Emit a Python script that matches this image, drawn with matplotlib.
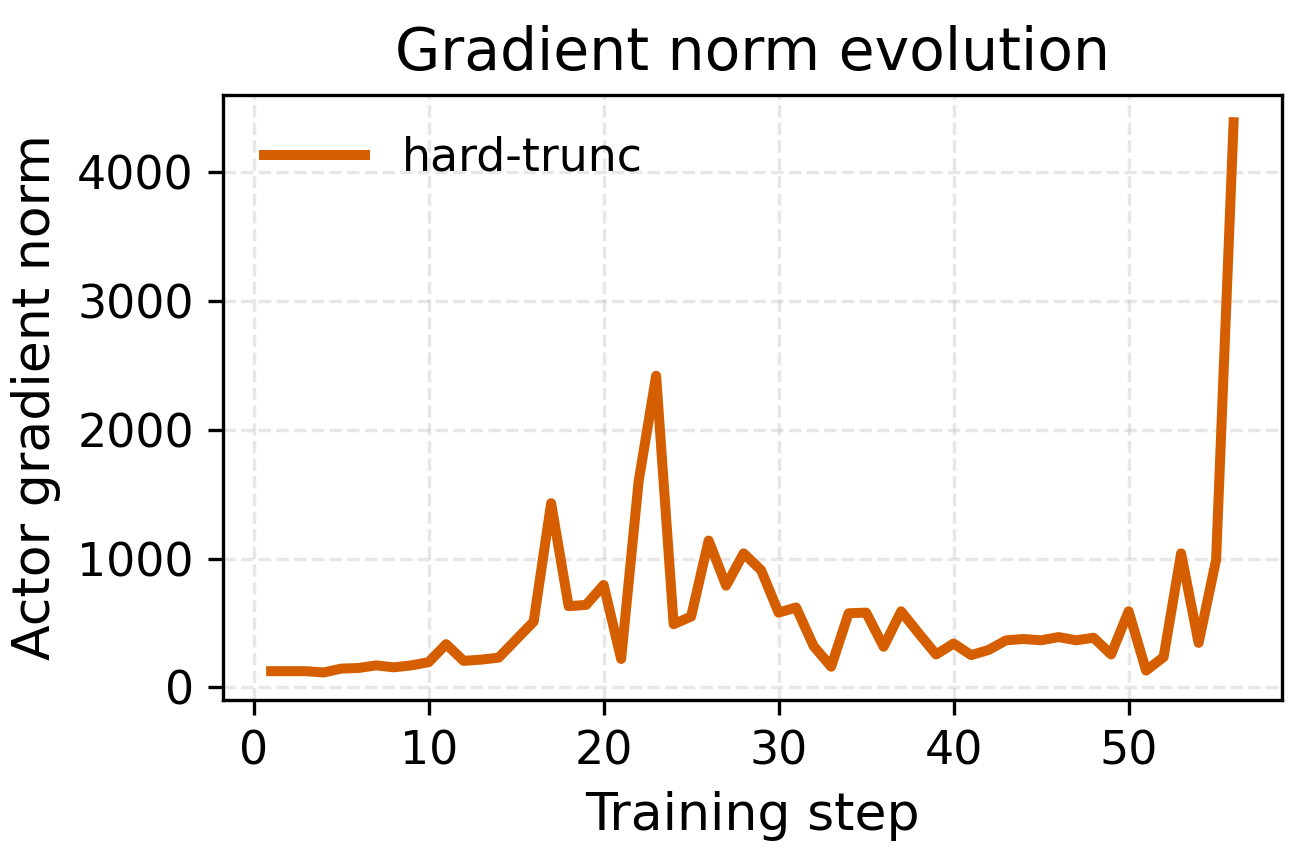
import matplotlib
matplotlib.use('Agg')
import matplotlib.pyplot as plt

steps = list(range(1, 57))
grad_norm = [125, 125, 125, 115, 145, 150, 170, 155, 170, 195,
             335, 205, 215, 230, 370, 510, 1430, 630, 640, 795,
             220, 1600, 2420, 490, 550, 1140, 790, 1040, 910, 580,
             620, 320, 160, 575, 580, 315, 590, 420, 255, 340,
             250, 290, 365, 375, 365, 390, 365, 385, 255, 590,
             130, 235, 1040, 345, 990, 4390]

fig, ax = plt.subplots(figsize=(4.373, 2.87), dpi=300)
ax.plot(steps, grad_norm, color='#d55e00', linewidth=2.4, label='hard-trunc')
ax.set_title('Gradient norm evolution', fontsize=14)
ax.set_xlabel('Training step', fontsize=12.5)
ax.set_ylabel('Actor gradient norm', fontsize=12.5)
ax.tick_params(labelsize=11)
ax.grid(True, linestyle='--', alpha=0.3)
ax.legend(frameon=False, fontsize=11, loc='upper left', handlelength=2.2)
fig.subplots_adjust(left=0.17, right=0.977, top=0.89, bottom=0.187)
fig.savefig('out.png', dpi=300)
